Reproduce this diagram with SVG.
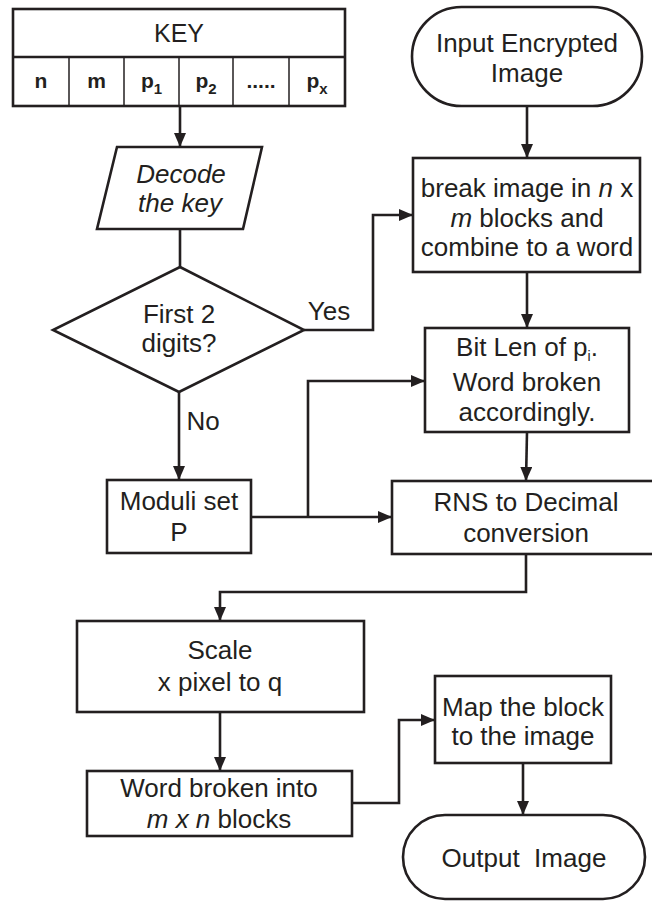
<svg xmlns="http://www.w3.org/2000/svg" width="652" height="903" viewBox="0 0 652 903">
<defs>
<style>
.s{fill:#fff;stroke:#231f20;stroke-width:2.6}
.c{fill:none;stroke:#231f20;stroke-width:2.6}
.t{font-family:"Liberation Sans",Arial,sans-serif;font-size:26px;fill:#231f20;text-anchor:middle}
.b{font-family:"Liberation Sans",Arial,sans-serif;font-size:21px;font-weight:bold;fill:#231f20;text-anchor:middle}
.thin{stroke:#231f20;stroke-width:1.5}
</style>
<marker id="ah" markerUnits="userSpaceOnUse" markerWidth="14" markerHeight="12" refX="14" refY="6" orient="auto">
<path d="M0,0 L14,6 L0,12 z" fill="#231f20"/>
</marker>
</defs>
<rect width="652" height="903" fill="#fff"/>

<g id="connectors">
<path class="c" d="M180,106 V147" marker-end="url(#ah)"/>
<path class="c" d="M180,229 V267"/>
<path class="c" d="M304,330 H373 V215 H413" marker-end="url(#ah)"/>
<path class="c" d="M179,392 V480" marker-end="url(#ah)"/>
<path class="c" d="M527,106 V158" marker-end="url(#ah)"/>
<path class="c" d="M527,272 V328" marker-end="url(#ah)"/>
<path class="c" d="M251,517 H392" marker-end="url(#ah)"/>
<path class="c" d="M308,517 V381 H425" marker-end="url(#ah)"/>
<path class="c" d="M527,432 L526,481" marker-end="url(#ah)"/>
<path class="c" d="M526,554 V592 H220 V621" marker-end="url(#ah)"/>
<path class="c" d="M220,712 V771" marker-end="url(#ah)"/>
<path class="c" d="M352,803 H399 V720 H435" marker-end="url(#ah)"/>
<path class="c" d="M523,763 V815" marker-end="url(#ah)"/>
<text class="t" x="329" y="320">Yes</text>
<text class="t" x="203" y="430">No</text>
</g>

<g id="key">
<rect class="s" x="13" y="9" width="332" height="97"/>
<line class="c" x1="13" y1="57" x2="345" y2="57"/>
<line class="thin" x1="69" y1="57" x2="69" y2="106"/>
<line class="thin" x1="124" y1="57" x2="124" y2="106"/>
<line class="thin" x1="179" y1="57" x2="179" y2="106"/>
<line class="thin" x1="233" y1="57" x2="233" y2="106"/>
<line class="thin" x1="289" y1="57" x2="289" y2="106"/>
<text class="t" x="179" y="42" style="font-size:25px">KEY</text>
<text class="b" x="41" y="88">n</text>
<text class="b" x="96.5" y="88">m</text>
<text class="b" x="151.5" y="88">p<tspan dy="6" style="font-size:15px">1</tspan></text>
<text class="b" x="206" y="88">p<tspan dy="6" style="font-size:15px">2</tspan></text>
<text class="b" x="261" y="88">.....</text>
<text class="b" x="317" y="88">p<tspan dy="6" style="font-size:15px">x</tspan></text>
</g>

<g id="decode">
<polygon class="s" points="117,147 262,147 243,229 97,229"/>
<text class="t" x="181" y="183" font-style="italic">Decode</text>
<text class="t" x="180" y="212" font-style="italic">the key</text>
</g>

<g id="decision">
<polygon class="s" points="180,267 304,330 179,392 53,330"/>
<text class="t" x="179" y="323">First 2</text>
<text class="t" x="179" y="352">digits?</text>
</g>

<g id="moduli">
<rect class="s" x="107" y="480" width="144" height="73"/>
<text class="t" x="179" y="510">Moduli set</text>
<text class="t" x="179" y="541">P</text>
</g>

<g id="input">
<rect class="s" x="412" y="7" width="230" height="99" rx="49.5"/>
<text class="t" x="527" y="52">Input Encrypted</text>
<text class="t" x="527" y="82">Image</text>
</g>

<g id="break">
<rect class="s" x="413" y="158" width="227" height="114"/>
<text class="t" x="527" y="197">break image in <tspan font-style="italic">n</tspan> x</text>
<text class="t" x="527" y="227"><tspan font-style="italic">m</tspan> blocks and</text>
<text class="t" x="527" y="256">combine to a word</text>
</g>

<g id="bitlen">
<rect class="s" x="425" y="328" width="204" height="104"/>
<text class="t" x="527" y="356">Bit Len of p<tspan dy="5" style="font-size:14px">i</tspan><tspan dy="-5">.</tspan></text>
<text class="t" x="527" y="391">Word broken</text>
<text class="t" x="527" y="421">accordingly.</text>
</g>

<g id="rns">
<rect class="s" x="392" y="481" width="270" height="73"/>
<text class="t" x="526" y="511">RNS to Decimal</text>
<text class="t" x="526" y="542">conversion</text>
</g>

<g id="scale">
<rect class="s" x="77" y="621" width="287" height="91"/>
<text class="t" x="220" y="659">Scale</text>
<text class="t" x="220" y="691">x pixel to q</text>
</g>

<g id="word">
<rect class="s" x="87" y="771" width="265" height="65"/>
<text class="t" x="219" y="797">Word broken into</text>
<text class="t" x="219" y="828"><tspan font-style="italic">m x n</tspan> blocks</text>
</g>

<g id="map">
<rect class="s" x="435" y="676" width="176" height="87"/>
<text class="t" x="523" y="716">Map the block</text>
<text class="t" x="523" y="745">to the image</text>
</g>

<g id="output">
<rect class="s" x="403" y="815" width="242" height="84" rx="42"/>
<text class="t" x="524" y="867" style="white-space:pre">Output  Image</text>
</g>
</svg>
